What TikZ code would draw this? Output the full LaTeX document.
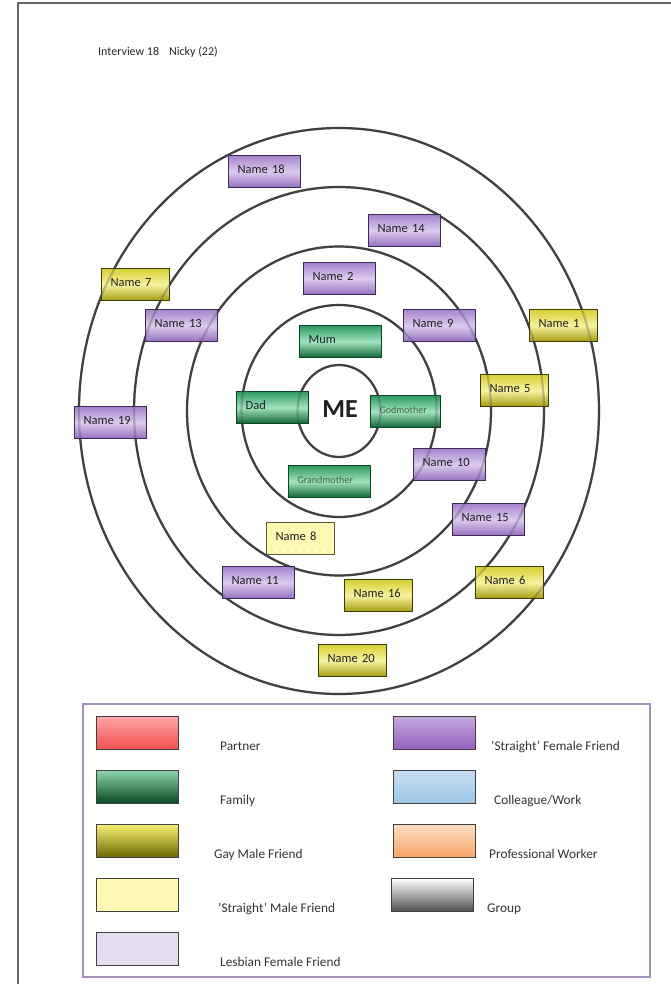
\documentclass[tikz,border=0pt]{standalone}
\usepackage{fontspec}
\setmainfont{Carlito}
% ring and frame colours
\definecolor{ringgray}{HTML}{404040}
\definecolor{frameGray}{HTML}{666666}
\definecolor{keyFrame}{HTML}{A38FBE}
% person-box colours
\definecolor{pTop}{HTML}{A584CC}\definecolor{pMid}{HTML}{DCCBEE}\definecolor{pBot}{HTML}{9570BF}\definecolor{pLine}{HTML}{3A2A55}
\definecolor{gTop}{HTML}{2E9960}\definecolor{gMid}{HTML}{A3E3C0}\definecolor{gBot}{HTML}{0F6535}\definecolor{gLine}{HTML}{0B4526}
\definecolor{yTop}{HTML}{D6CF33}\definecolor{yMid}{HTML}{F7F3A0}\definecolor{yBot}{HTML}{A59D12}\definecolor{yLine}{HTML}{3F3C05}
\definecolor{smFill}{HTML}{FFF9B5}\definecolor{smDot}{HTML}{D5CC7A}\definecolor{smLine}{HTML}{5A5A3A}
\definecolor{famText}{HTML}{3F5F4C}
% key colours
\definecolor{kRedT}{HTML}{FFA6A6}\definecolor{kRedB}{HTML}{F24E4E}
\definecolor{kGrnT}{HTML}{8ED5AE}\definecolor{kGrnB}{HTML}{06451F}
\definecolor{kYelT}{HTML}{F4EF72}\definecolor{kYelB}{HTML}{6B6600}
\definecolor{kPurT}{HTML}{C5A8DF}\definecolor{kPurB}{HTML}{935FBF}
\definecolor{kBluT}{HTML}{C6DDF2}\definecolor{kBluB}{HTML}{9CC7E7}
\definecolor{kOrgT}{HTML}{FCDCC4}\definecolor{kOrgB}{HTML}{F8A66A}
\definecolor{kGryT}{HTML}{FFFFFF}\definecolor{kGryB}{HTML}{4E4E4E}
\definecolor{kLav}{HTML}{E5DCEF}\definecolor{kLavDot}{HTML}{CBBFDB}
\begin{document}
\begin{tikzpicture}[x=1pt,y=-1pt,
  ring/.style={draw=ringgray, line width=2.2pt},
  box/.style={rectangle, draw, line width=1.2pt, anchor=north west,
    minimum height=32pt, inner xsep=9pt, inner ysep=0pt,
    text height=9pt, text depth=6pt, align=left,
    font=\fontsize{12.5}{14}\selectfont, text=black!88},
  w72/.style={text width=54pt},
  w68/.style={text width=50pt},
  w70/.style={text width=52pt},
  w82/.style={text width=64pt},
  sfemale/.style={box, w72, draw=pLine, top color=pTop, bottom color=pBot, middle color=pMid},
  gmale/.style={box, w68, draw=yLine, top color=yTop, bottom color=yBot, middle color=yMid},
  family/.style={box, draw=gLine, top color=gTop, bottom color=gBot, middle color=gMid},
  smale/.style={box, w68, draw=smLine, fill=smFill},
  swatch/.style={rectangle, anchor=north west, minimum width=82pt, minimum height=33pt,
    inner sep=0pt, draw=black!75, line width=1.2pt},
  keylabel/.style={anchor=base west, inner sep=0pt,
    font=\fontsize{13.3}{15}\selectfont, text=black!80},
]
\useasboundingbox (0,0) rectangle (671,984);
\fill[white] (0,0) rectangle (671,984);

% page frame
\draw[frameGray, line width=2pt] (18,984) -- (18,3) -- (671,3);

% heading
\node[anchor=base west, inner sep=0pt, font=\fontsize{12}{14}\selectfont, text=black!85]
  (title) at (98,56) {Interview 18\hspace{10pt}Nicky (22)};

% concentric rings round the centre
\coordinate (me) at (339,411);
\foreach \rx/\ry in {260/283, 205/224, 152/164.5, 97.5/106, 41.5/46}
  \draw[ring] (me) ellipse [x radius=\rx, y radius=\ry];

\node[font=\fontsize{26}{28}\selectfont\bfseries, text=black!88] (meText) at (340,409) {ME};

% family
\node[family, w82] (mum) at (299,325) {Mum};
\node[family, w72] (dad) at (236,391) {Dad};
\node[family, w70, font=\fontsize{10}{12}\selectfont, text=famText] (godmother) at (370,395) {Godmother};
\node[family, w82, font=\fontsize{10}{12}\selectfont, text=famText] (grandmother) at (288,465) {Grandmother};

% 'straight' female friends
\node[sfemale] (n18) at (228,155) {Name 18};
\node[sfemale] (n14) at (368,214) {Name 14};
\node[sfemale] (n2)  at (303,262) {Name 2};
\node[sfemale] (n13) at (145,309) {Name 13};
\node[sfemale] (n9)  at (403,309) {Name 9};
\node[sfemale] (n19) at (74,406)  {Name 19};
\node[sfemale] (n10) at (413,448) {Name 10};
\node[sfemale] (n15) at (452,503) {Name 15};
\node[sfemale] (n11) at (222,566) {Name 11};

% gay male friends
\node[gmale] (n7)  at (101,268) {Name 7};
\node[gmale] (n1)  at (529,309) {Name 1};
\node[gmale] (n5)  at (480,374) {Name 5};
\node[gmale] (n16) at (344,579) {Name 16};
\node[gmale] (n6)  at (475,566) {Name 6};
\node[gmale] (n20) at (318,644) {Name 20};

% 'straight' male friend
\node[smale] (n8) at (266,522) {Name 8};
\begin{scope}[shift={(n8.north west)}]
  \foreach \dx in {6,14,...,62}
    \foreach \dy in {6,29}
      \fill[smDot] (\dx,\dy) circle (0.6pt);
\end{scope}

% rings show faintly through the boxes
\foreach \rx/\ry in {260/283, 205/224, 152/164.5, 97.5/106, 41.5/46}
  \draw[ring, draw opacity=0.28] (me) ellipse [x radius=\rx, y radius=\ry];

% key
\draw[keyFrame, line width=1.5pt] (83,704) rectangle (650,977);

\node[swatch, top color=kRedT, bottom color=kRedB] (kPartner) at (96,716) {};
\node[swatch, top color=kGrnT, bottom color=kGrnB] (kFamily) at (96,770) {};
\node[swatch, top color=kYelT, bottom color=kYelB] (kGay) at (96,824) {};
\node[swatch, fill=smFill] (kSMale) at (96,878) {};
\node[swatch, fill=kLav] (kLesbian) at (96,932) {};
\begin{scope}[shift={(kSMale.north west)}]
  \foreach \dx in {6,14,...,78}
    \foreach \dy in {6,17,29}
      \fill[smDot] (\dx,\dy) circle (0.6pt);
\end{scope}
\begin{scope}[shift={(kLesbian.north west)}]
  \foreach \dx in {6,14,...,78}
    \foreach \dy in {6,17,29}
      \fill[kLavDot] (\dx,\dy) circle (0.6pt);
\end{scope}

\node[swatch, top color=kPurT, bottom color=kPurB] (kSFemale) at (393,716) {};
\node[swatch, top color=kBluT, bottom color=kBluB] (kWork) at (393,770) {};
\node[swatch, top color=kOrgT, bottom color=kOrgB] (kProf) at (393,824) {};
\node[swatch, top color=kGryT, bottom color=kGryB] (kGroup) at (391,878) {};

\node[keylabel] (lPartner) at (220,750) {Partner};
\node[keylabel] (lFamily)  at (220,804) {Family};
\node[keylabel] (lGay)     at (214,858) {Gay Male Friend};
\node[keylabel] (lSMale)   at (218,912) {’Straight’ Male Friend};
\node[keylabel] (lLesbian) at (220,966) {Lesbian Female Friend};
\node[keylabel] (lSFemale) at (491,750) {’Straight’ Female Friend};
\node[keylabel] (lWork)    at (494,804) {Colleague/Work};
\node[keylabel] (lProf)    at (489,858) {Professional Worker};
\node[keylabel] (lGroup)   at (487,912) {Group};
\end{tikzpicture}
\end{document}
